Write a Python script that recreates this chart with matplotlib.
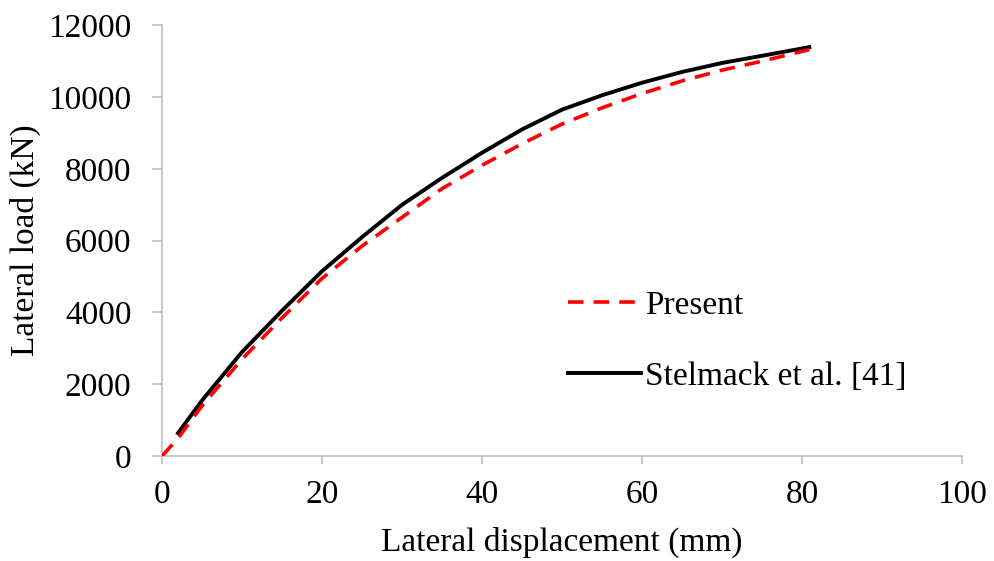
import matplotlib
matplotlib.use('Agg')
import matplotlib.pyplot as plt

# Data
present_x = [0, 2, 5, 10, 15, 20, 25, 30, 35, 40, 45, 50, 55, 60, 65, 70, 75, 81.6]
present_y = [0, 500, 1400, 2700, 3850, 4950, 5850, 6650, 7450, 8100, 8700, 9250, 9700,
             10100, 10450, 10750, 11000, 11360]

stelmack_x = [2, 5, 10, 15, 20, 25, 30, 35, 40, 45, 50, 55, 60, 65, 70, 75, 80.9]
stelmack_y = [640, 1550, 2900, 4050, 5150, 6100, 7000, 7750, 8450, 9100, 9650, 10050,
              10400, 10700, 10950, 11150, 11390]

plt.rcParams['font.family'] = ['Liberation Serif', 'DejaVu Serif']

fig = plt.figure(figsize=(9.94, 5.61), dpi=100)
ax = fig.add_axes([0.163, 0.187, 0.805, 0.768])

ax.plot(present_x, present_y, color='#ff0000', linestyle=(0, (4.3, 2.8)), linewidth=2.6,
        label='Present', zorder=3)
ax.plot(stelmack_x, stelmack_y, color='black', linewidth=2.8,
        label='Stelmack et al. [41]', zorder=2)

ax.set_xlim(0, 100)
ax.set_ylim(0, 12000)
ax.set_xticks(range(0, 101, 20))
ax.set_yticks(range(0, 12001, 2000))

for side in ['top', 'right']:
    ax.spines[side].set_visible(False)
for side in ['left', 'bottom']:
    ax.spines[side].set_color('#bfbfbf')
    ax.spines[side].set_linewidth(1.2)

ax.tick_params(axis='both', colors='#bfbfbf', labelcolor='black', labelsize=24,
               width=1.2, direction='out')
ax.tick_params(axis='x', length=6, pad=11)
ax.tick_params(axis='y', length=7, pad=15)

ax.set_xlabel('Lateral displacement (mm)', fontsize=24, labelpad=12)
ax.set_ylabel('Lateral load (kN)', fontsize=24, labelpad=5)

ax.legend(loc='upper left', bbox_to_anchor=(0.486, 0.423), frameon=False, fontsize=24,
          handlelength=2.2, handletextpad=0.13, labelspacing=1.2, borderpad=0)

fig.savefig('out.png', dpi=100)
